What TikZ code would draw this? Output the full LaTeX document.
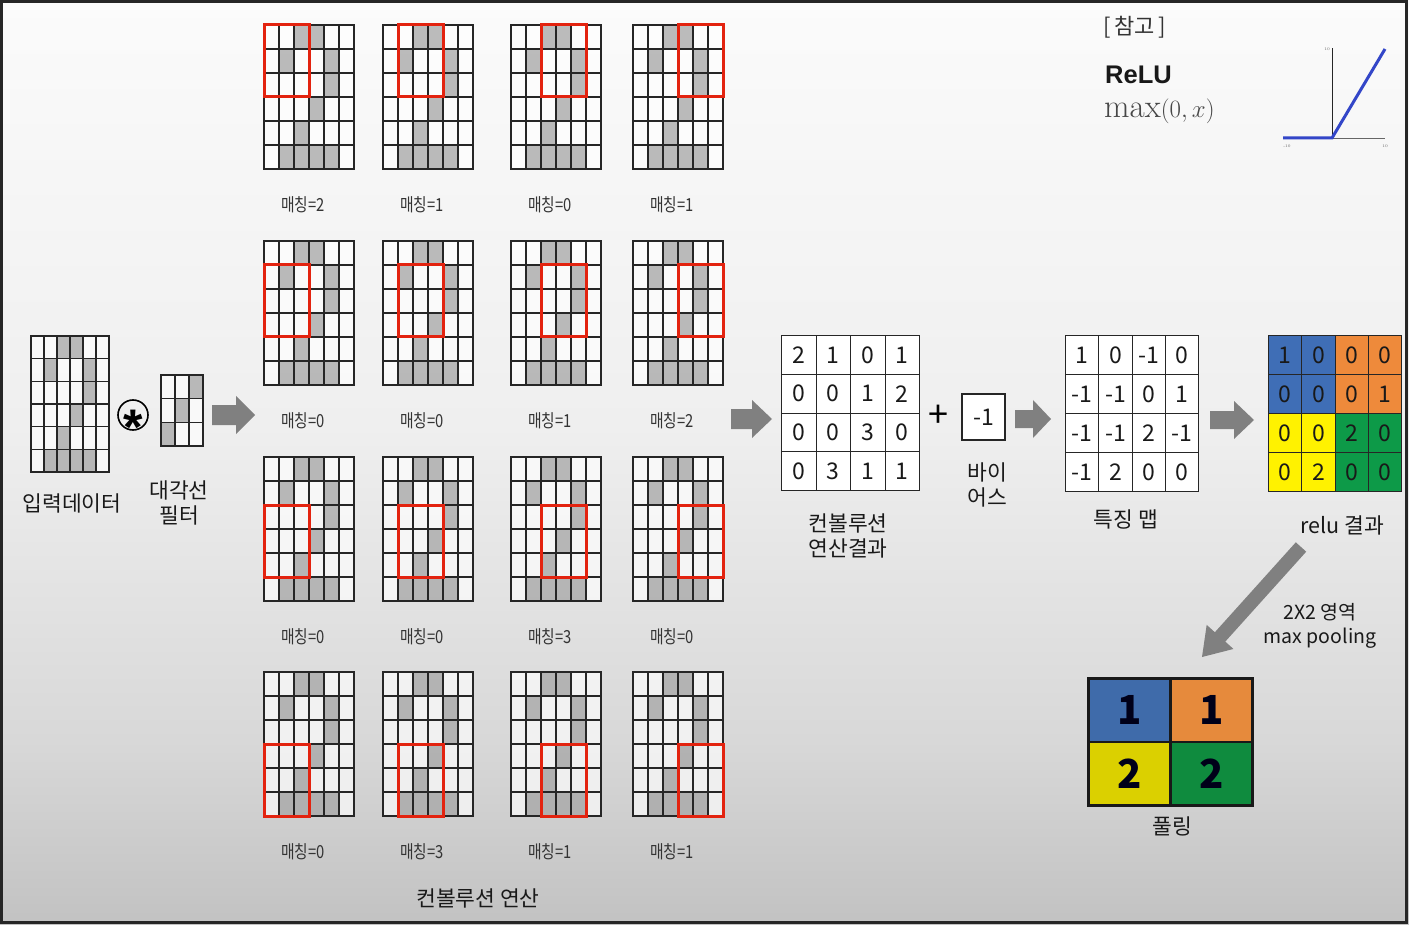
\documentclass[tikz,border=0pt]{standalone}
\usepackage{fontspec}
\newfontfamily\kr{Noto Sans CJK KR}
\newfontfamily\krc[FakeStretch=0.82]{Noto Sans CJK KR}
\newfontfamily\lsans{Liberation Sans}
\usetikzlibrary{calc}
\definecolor{bgB}{HTML}{C2C2C2}
\definecolor{bgM1}{HTML}{D8D8D8}
\definecolor{bgM2}{HTML}{EFEFEF}
\definecolor{bgT}{HTML}{FBFBFB}
\definecolor{arrgray}{HTML}{808080}
\definecolor{redb}{HTML}{E3230F}
\definecolor{rb}{HTML}{3F6EB6}
\definecolor{ro}{HTML}{EE8A3B}
\definecolor{ry}{HTML}{FFF200}
\definecolor{rg}{HTML}{0D9A48}
\definecolor{pb}{HTML}{3F6BAA}
\definecolor{po}{HTML}{E68A3C}
\definecolor{py}{HTML}{DBD000}
\definecolor{pg}{HTML}{0F8B3E}
\definecolor{reluline}{HTML}{3346C8}
\pgfdeclareverticalshading{bgshade}{100bp}{color(0bp)=(bgB); color(25bp)=(bgB); color(35bp)=(bgM1); color(52bp)=(bgM2); color(75bp)=(bgT); color(100bp)=(bgT)}
\newcommand\sixgrid[4]{%
  \foreach \rr in {0,...,5}{\foreach \cc in {0,...,5}{%
    \filldraw[cellw] ({#1+\cc*#3},{#2+\rr*#4}) rectangle ++(#3,#4);}}%
  \foreach \rr/\cc in {0/2,0/3,1/1,1/4,2/4,3/3,4/2,5/1,5/2,5/3,5/4}{%
    \filldraw[cellg] ({#1+\cc*#3},{#2+\rr*#4}) rectangle ++(#3,#4);}%
}
\newcommand\numgrid[5]{%
  \foreach \v/\col [count=\k from 0] in {#5}{%
    \pgfmathtruncatemacro\rr{int(\k/4)}\pgfmathtruncatemacro\cc{mod(\k,4)}%
    \node[numcell, fill=\col, minimum width=#3pt, minimum height=#4pt, anchor=north west]
      (#1\rr\cc) at ({#2+\cc*#3},{335+\rr*#4}) {\v};}%
}
\newcommand\blockarrow[5]{%
  \coordinate (ba-m) at ($(#2)!#5!(#1)$);
  \fill[arrgray] ($(#1)!#3!90:(#2)$) -- ($(ba-m)!#3!-90:(#1)$) -- ($(ba-m)!#4!-90:(#1)$) -- (#2)
     -- ($(ba-m)!#4!90:(#1)$) -- ($(ba-m)!#3!90:(#1)$) -- ($(#1)!#3!-90:(#2)$) -- cycle;
}
\begin{document}
\begin{tikzpicture}[x=1pt,y=-1pt,
  cellw/.style={fill=white, fill opacity=0.65, draw=black!85, line width=1.2pt},
  cellg/.style={fill=black, fill opacity=0.26, draw=black!85, line width=1.2pt},
  redbox/.style={draw=redb, line width=3pt},
  matchlbl/.style={font=\krc\fontsize{18}{20}\selectfont, text=black!80},
  lbl/.style={font=\kr\fontsize{21.5}{25}\selectfont, align=center, text=black!90},
  numcell/.style={draw=black!85, line width=1.2pt, inner sep=0pt, font=\kr\fontsize{23}{23}\selectfont, text=black!90},
  poolcell/.style={draw=black!90, line width=2.5pt, inner sep=0pt, minimum width=82pt, minimum height=63.5pt, anchor=north west, font=\kr\bfseries\fontsize{40}{40}\selectfont, text=black!90!blue}
]
\useasboundingbox (0,0) rectangle (1409,925);
\shade[shading=bgshade] (0,0) rectangle (1409,925);
\draw[line width=2.5pt, black!85] (1.5,1.5) rectangle (1406.5,922.5);

% input and filter
\sixgrid{31}{336}{13}{22.667}
\coordinate (inp) at (70,404);
\foreach \rr in {0,1,2}{\foreach \cc in {0,1,2}{%
  \filldraw[cellw] ({161+\cc*14},{375+\rr*23.67}) rectangle ++(14,23.67);}}
\foreach \rr/\cc in {0/2,1/1,2/0}{%
  \filldraw[cellg] ({161+\cc*14},{375+\rr*23.67}) rectangle ++(14,23.67);}
\node[draw=black, line width=1.6pt, circle, minimum size=30pt, inner sep=0pt] (conv) at (133,415) {};
\node[font=\lsans\bfseries\fontsize{50}{50}\selectfont, inner sep=0pt] (ast) at (133.3,427.5) {*};
\node[lbl] (inlbl) at (72,503) {입력데이터};
\node[lbl] (filtlbl) at (179,503) {대각선\\필터};

% convolution grids
\foreach \gx [count=\ci from 0] in {264,383,511,633}{%
  \foreach \gy [count=\ri from 0] in {25,241,457,672}{%
    \sixgrid{\gx}{\gy}{15}{24}
    \draw[redbox] ({\gx+\ci*15},{\gy+\ri*24}) rectangle ++(45,72);
    \pgfmathtruncatemacro\mv{{2,1,0,1,0,0,1,2,0,0,3,0,0,3,1,1}[4*\ri+\ci]}
    \node[matchlbl] (m\ri\ci) at ({\gx+39},{\gy+180}) {매칭=\mv};
  }}
\node[lbl] (convlbl) at (478,898) {컨볼루션 연산};

% arrows
\coordinate (a1s) at (212,415); \coordinate (a1e) at (255,415);
\coordinate (a2s) at (731,419); \coordinate (a2e) at (772,419);
\coordinate (a3s) at (1015,419); \coordinate (a3e) at (1051,419);
\coordinate (a4s) at (1210,420); \coordinate (a4e) at (1254,420);
\coordinate (a5s) at (1301,547); \coordinate (a5e) at (1202,657);
\blockarrow{a1s}{a1e}{10pt}{19pt}{19pt}
\blockarrow{a2s}{a2e}{10pt}{19pt}{20pt}
\blockarrow{a3s}{a3e}{9pt}{19pt}{18pt}
\blockarrow{a4s}{a4e}{9pt}{19pt}{20pt}
\blockarrow{a5s}{a5e}{7pt}{18pt}{27pt}

% convolution result
\numgrid{c}{781}{34.5}{38.75}{2/white,1/white,0/white,1/white,0/white,0/white,1/white,2/white,0/white,0/white,3/white,0/white,0/white,3/white,1/white,1/white}
\node[lbl] (reslbl) at (848,536) {컨볼루션\\연산결과};
\node[font=\kr\fontsize{36}{36}\selectfont] (plus) at (938,416) {+};
\node[numcell, fill=white, minimum width=43pt, minimum height=46pt] (bias) at (983.5,417) {-1};
\node[lbl] (biaslbl) at (987,485) {바이\\어스};

% feature map
\numgrid{f}{1065}{33.25}{39}{1/white,0/white,-1/white,0/white,-1/white,-1/white,0/white,1/white,-1/white,-1/white,2/white,-1/white,-1/white,2/white,0/white,0/white}
\node[lbl] (fmlbl) at (1126,519) {특징 맵};

% relu result
\numgrid{r}{1268}{33.25}{39}{1/rb,0/rb,0/ro,0/ro,0/rb,0/rb,0/ro,1/ro,0/ry,0/ry,2/rg,0/rg,0/ry,2/ry,0/rg,0/rg}
\node[lbl] (relulbl) at (1342,525) {relu 결과};
\node[lbl, font=\kr\fontsize{19.5}{24}\selectfont] (poollbl) at (1320,626) {2X2 영역\\max pooling};

% pooling
\node[poolcell, fill=pb] (p00) at (1087,677) {1};
\node[poolcell, fill=po] (p01) at (1169,677) {1};
\node[poolcell, fill=py] (p10) at (1087,740.5) {2};
\node[poolcell, fill=pg] (p11) at (1169,740.5) {2};
\node[lbl] (plbl) at (1172,826) {풀링};

% reference ReLU
\node[font=\kr\fontsize{22}{22}\selectfont, text=black!80] (ref) at (1135,27) {[\,참고\,]};
\node[font=\lsans\bfseries\fontsize{25.5}{25.5}\selectfont, text=black!90, anchor=west, inner sep=0pt] (relu) at (1105,75) {ReLU};
\node[font=\fontsize{33}{33}\selectfont, text=black!72, anchor=west, inner sep=0pt] (maxf) at (1104,111) {$\max(0,x)$};
\coordinate (o) at (1332,138);
\coordinate (ytop) at (1332,48);
\coordinate (xr) at (1385,138);
\coordinate (xl) at (1283,138);
\coordinate (lt) at (1385,49);
\draw[black!85, line width=0.9pt] (o) -- (ytop);
\draw[black!60, line width=0.9pt] (o) -- (xr);
\draw[reluline, line width=3pt] (xl) -- (o) -- (lt);
\node[font=\fontsize{4}{4}\selectfont, text=black!60] (t1) at (1327,49) {10};
\node[font=\fontsize{4}{4}\selectfont, text=black!60] (t2) at (1287,146) {-10};
\node[font=\fontsize{4}{4}\selectfont, text=black!60] (t3) at (1385,146) {10};
\end{tikzpicture}
\end{document}
